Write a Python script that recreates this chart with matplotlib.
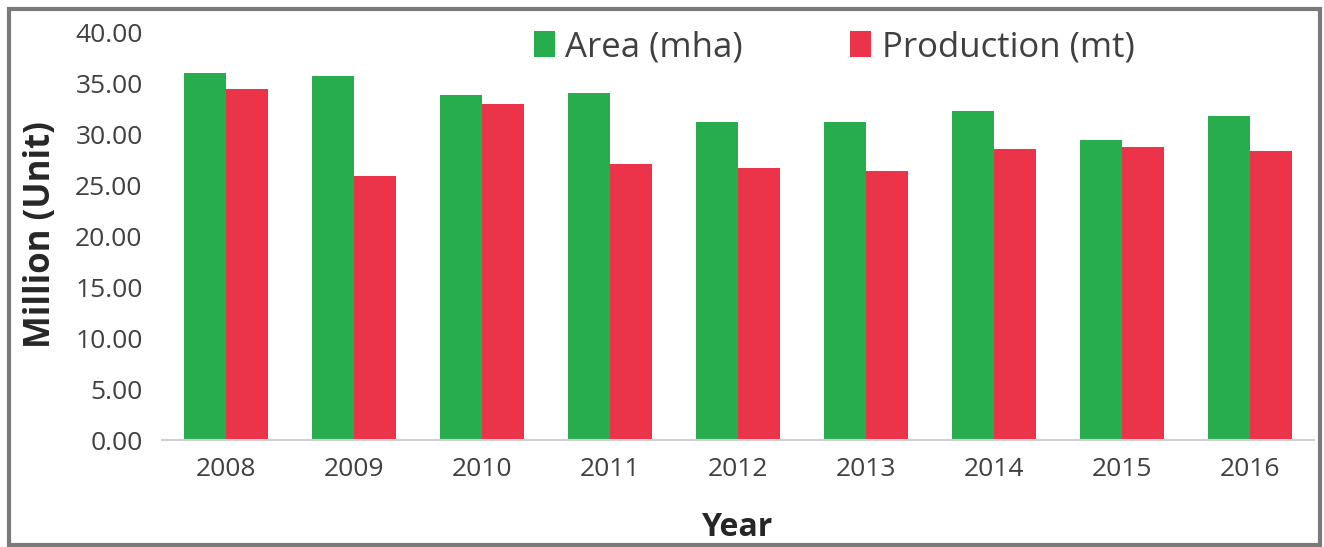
import matplotlib
matplotlib.use("Agg")
import matplotlib.pyplot as plt
import numpy as np
from matplotlib.patches import Rectangle

years = ["2008", "2009", "2010", "2011", "2012", "2013", "2014", "2015", "2016"]
area_mha = [36.1, 35.8, 33.9, 34.1, 31.3, 31.3, 32.3, 29.5, 31.8]
production_mt = [34.5, 25.9, 33.0, 27.1, 26.7, 26.4, 28.6, 28.8, 28.4]

GREEN = "#28AD4E"
RED = "#EB3349"
TEXT = "#404040"

plt.rcParams["font.family"] = ["Open Sans", "DejaVu Sans"]

fig = plt.figure(figsize=(13.24, 5.47), dpi=100)
ax = fig.add_axes([0.1224, 0.1956, 0.8700, 0.7441])

x = np.arange(len(years))
w = 0.33
ax.bar(x - w / 2, area_mha, width=w, color=GREEN, label="Area (mha)")
ax.bar(x + w / 2, production_mt, width=w, color=RED, label="Production (mt)")

ax.set_xlim(-0.5, len(years) - 0.5)
ax.set_ylim(0, 40)
ax.set_yticks(np.arange(0, 40.1, 5))
ax.set_yticklabels([f"{v:.2f}" for v in np.arange(0, 40.1, 5)])
ax.set_xticks(x)
ax.set_xticklabels(years)
ax.tick_params(axis="both", length=0, labelsize=19, colors=TEXT)
ax.tick_params(axis="x", pad=12)
ax.tick_params(axis="y", pad=14)

for side in ("top", "right", "left"):
    ax.spines[side].set_visible(False)
ax.spines["bottom"].set_color("#d0d0d0")
ax.spines["bottom"].set_linewidth(1.5)

fig.text(41 / 1324, 1 - 235 / 547, "Million (Unit)", rotation=90, ha="center",
         va="center", fontsize=25, fontweight="bold", color="#262626")
fig.text(738 / 1324, 1 - 528 / 547, "Year", ha="center", va="center",
         fontsize=23, fontweight="bold", color="#262626")

fig.legend(loc="center", bbox_to_anchor=(834 / 1324, 1 - 47 / 547), ncol=2,
           frameon=False, fontsize=25, handlelength=0.6, handleheight=0.8,
           handletextpad=0.3, columnspacing=3.1, labelcolor=TEXT)

# grey frame round the whole chart
fig.patches.append(Rectangle((9 / 1324, 2 / 547), 1311 / 1324, 536 / 547,
                             transform=fig.transFigure, fill=False,
                             edgecolor="#7a7a7a", linewidth=3))

fig.savefig("out.png", dpi=100)
